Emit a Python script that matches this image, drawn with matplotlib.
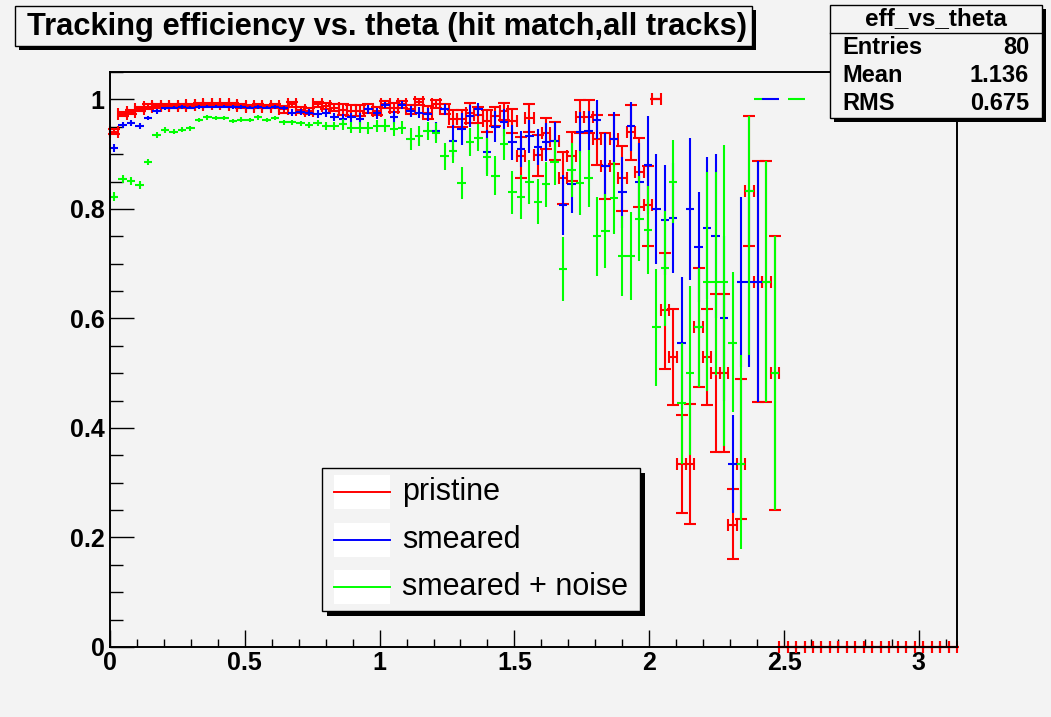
import numpy as np
import matplotlib
matplotlib.use('Agg')
import matplotlib.pyplot as plt
from matplotlib.patches import Rectangle
from matplotlib.lines import Line2D
from matplotlib.ticker import MultipleLocator, FuncFormatter

# Histogramas: 100 bins entre 0 y pi
NBINS = 100
THETA_MIN, THETA_MAX = 0.0, np.pi

# pristine (rojo), bins 0-78 con datos, 79-99 vacios (eff = 0)
pristine = [0.941, 0.973, 0.977, 0.982, 0.987, 0.988, 0.988, 0.988, 0.988, 0.989,
            0.990, 0.991, 0.991, 0.991, 0.990, 0.988, 0.987, 0.988, 0.987, 0.988,
            0.982, 0.991, 0.981, 0.979, 0.991, 0.988, 0.985, 0.981, 0.979, 0.979,
            0.983, 0.979, 0.991, 0.985, 0.991, 0.982, 0.995, 0.976, 0.991, 0.982,
            0.965, 0.965, 0.976, 0.972, 0.960, 0.969, 0.978, 0.960, 0.896, 0.966,
            0.899, 0.938, 0.924, 0.857, 0.896, 0.968, 0.968, 0.927, 0.878, 0.927,
            0.856, 0.940, 0.868, 0.807, 1.000, 0.615, 0.530, 0.334, 0.334, 0.584,
            0.530, 0.500, 0.500, 0.222, 0.334, 0.833, 0.667, 0.667, 0.500] + [0.0] * 21
pristine_lo = [0.005, 0.004, 0.004, 0.004, 0.004, 0.003, 0.003, 0.003, 0.003, 0.003,
               0.003, 0.003, 0.003, 0.003, 0.003, 0.003, 0.003, 0.003, 0.003, 0.003,
               0.006, 0.005, 0.006, 0.006, 0.005, 0.006, 0.006, 0.010, 0.010, 0.010,
               0.008, 0.008, 0.006, 0.008, 0.006, 0.008, 0.005, 0.012, 0.007, 0.009,
               0.015, 0.015, 0.020, 0.015, 0.020, 0.018, 0.015, 0.022, 0.040, 0.025,
               0.038, 0.028, 0.035, 0.048, 0.045, 0.030, 0.030, 0.047, 0.060, 0.045,
               0.060, 0.050, 0.065, 0.075, 0.000, 0.107, 0.088, 0.090, 0.110, 0.110,
               0.088, 0.144, 0.144, 0.062, 0.100, 0.100, 0.220, 0.220, 0.250] + [0.0] * 21
pristine_hi = [0.005, 0.004, 0.004, 0.004, 0.004, 0.003, 0.003, 0.003, 0.003, 0.003,
               0.003, 0.003, 0.003, 0.003, 0.003, 0.003, 0.003, 0.003, 0.003, 0.003,
               0.006, 0.005, 0.006, 0.006, 0.005, 0.006, 0.006, 0.010, 0.010, 0.010,
               0.008, 0.008, 0.006, 0.008, 0.006, 0.008, 0.005, 0.012, 0.007, 0.009,
               0.015, 0.015, 0.018, 0.015, 0.020, 0.018, 0.015, 0.022, 0.036, 0.025,
               0.036, 0.028, 0.034, 0.047, 0.045, 0.030, 0.030, 0.045, 0.060, 0.045,
               0.058, 0.050, 0.062, 0.072, 0.000, 0.105, 0.088, 0.090, 0.110, 0.108,
               0.088, 0.144, 0.144, 0.066, 0.156, 0.137, 0.220, 0.220, 0.250] + [0.0] * 21

# smeared (azul), bins 0-78
smeared = [0.911, 0.953, 0.957, 0.951, 0.966, 0.978, 0.984, 0.985, 0.986, 0.985,
           0.986, 0.987, 0.987, 0.987, 0.986, 0.986, 0.985, 0.986, 0.985, 0.986,
           0.984, 0.976, 0.977, 0.976, 0.973, 0.975, 0.968, 0.965, 0.967, 0.965,
           0.982, 0.975, 0.990, 0.967, 0.990, 0.978, 0.976, 0.973, 0.943, 0.982,
           0.924, 0.946, 0.969, 0.982, 0.904, 0.950, 0.958, 0.922, 0.910, 0.933,
           0.913, 0.922, 0.924, 0.807, 0.845, 0.940, 0.943, 0.963, 0.878, 0.927,
           0.830, 0.951, 0.850, 0.880, 0.800, 0.780, 0.783, 0.555, 0.800, 0.730,
           0.765, 0.750, 0.600, 0.334, 0.667, 0.667, 0.667, 1.000, 1.000]
smeared_err = [0.007, 0.005, 0.005, 0.005, 0.004, 0.004, 0.003, 0.003, 0.003, 0.003,
               0.003, 0.003, 0.003, 0.003, 0.003, 0.003, 0.003, 0.003, 0.003, 0.003,
               0.004, 0.006, 0.006, 0.006, 0.007, 0.007, 0.008, 0.009, 0.009, 0.010,
               0.008, 0.010, 0.006, 0.012, 0.007, 0.010, 0.010, 0.012, 0.015, 0.010,
               0.030, 0.030, 0.020, 0.012, 0.040, 0.028, 0.025, 0.032, 0.033, 0.030,
               0.033, 0.035, 0.035, 0.055, 0.053, 0.037, 0.036, 0.035, 0.060, 0.050,
               0.065, 0.045, 0.070, 0.090, 0.100, 0.100, 0.100, 0.120, 0.130, 0.100,
               0.130, 0.150, 0.150, 0.090, 0.155, 0.155, 0.220, 0.000, 0.000]

# smeared + noise (verde), bins 0-81 (bin 79 vacio)
noise = [0.822, 0.855, 0.851, 0.844, 0.886, 0.935, 0.944, 0.941, 0.945, 0.947,
         0.962, 0.967, 0.966, 0.966, 0.960, 0.963, 0.962, 0.967, 0.962, 0.966,
         0.958, 0.958, 0.956, 0.953, 0.957, 0.951, 0.951, 0.955, 0.948, 0.948,
         0.948, 0.951, 0.952, 0.946, 0.948, 0.927, 0.933, 0.942, 0.939, 0.896,
         0.905, 0.848, 0.922, 0.930, 0.895, 0.861, 0.918, 0.830, 0.822, 0.849,
         0.813, 0.845, 0.885, 0.690, 0.871, 0.847, 0.856, 0.750, 0.760, 0.820,
         0.714, 0.714, 0.782, 0.762, 0.584, 0.692, 0.850, 0.445, 0.500, 0.584,
         0.667, 0.667, 0.667, 0.555, 0.334, 0.833, 1.000, 0.667, 0.500, np.nan, 1.000, 1.000]
noise_lo = [0.008, 0.007, 0.007, 0.007, 0.006, 0.005, 0.005, 0.005, 0.005, 0.005,
            0.004, 0.004, 0.004, 0.004, 0.004, 0.004, 0.004, 0.004, 0.004, 0.004,
            0.005, 0.005, 0.005, 0.006, 0.006, 0.007, 0.007, 0.010, 0.010, 0.010,
            0.011, 0.011, 0.012, 0.012, 0.012, 0.020, 0.018, 0.017, 0.018, 0.025,
            0.021, 0.029, 0.025, 0.025, 0.035, 0.035, 0.028, 0.040, 0.040, 0.040,
            0.041, 0.041, 0.041, 0.058, 0.050, 0.058, 0.052, 0.072, 0.067, 0.066,
            0.073, 0.080, 0.078, 0.080, 0.107, 0.105, 0.075, 0.110, 0.150, 0.110,
            0.200, 0.170, 0.300, 0.125, 0.155, 0.300, 0.000, 0.220, 0.250, np.nan, 0.000, 0.000]
noise_hi = [0.008, 0.007, 0.007, 0.007, 0.006, 0.005, 0.005, 0.005, 0.005, 0.005,
            0.004, 0.004, 0.004, 0.004, 0.004, 0.004, 0.004, 0.004, 0.004, 0.004,
            0.005, 0.005, 0.005, 0.006, 0.006, 0.007, 0.007, 0.010, 0.010, 0.010,
            0.011, 0.011, 0.012, 0.012, 0.012, 0.020, 0.018, 0.017, 0.018, 0.025,
            0.021, 0.029, 0.025, 0.025, 0.035, 0.035, 0.028, 0.040, 0.040, 0.040,
            0.041, 0.041, 0.041, 0.058, 0.050, 0.058, 0.052, 0.072, 0.067, 0.066,
            0.073, 0.080, 0.078, 0.080, 0.107, 0.105, 0.075, 0.110, 0.160, 0.108,
            0.200, 0.200, 0.250, 0.130, 0.200, 0.137, 0.000, 0.220, 0.250, np.nan, 0.000, 0.000]

stats = [('Entries', '80'), ('Mean', '1.136'), ('RMS', '0.675')]
labels = ['pristine', 'smeared', 'smeared + noise']
colors = ['#ff0000', '#0000ff', '#00ff00']

BG = '#f3f3f3'
W, H = 1051, 717
plt.rcParams['font.family'] = ['Liberation Sans', 'DejaVu Sans']

fig = plt.figure(figsize=(W / 100, H / 100), dpi=100, facecolor=BG)


def fx(x):
    return x / W


def fy(y):
    return 1 - y / H


def caja(x0, y0, x1, y1, sombra=4):
    # caja estilo ROOT con sombra negra
    fig.add_artist(Rectangle((fx(x0 + sombra), fy(y1 + sombra)), fx(x1 - x0), (y1 - y0) / H,
                             transform=fig.transFigure, facecolor='black', edgecolor='none', zorder=5))
    fig.add_artist(Rectangle((fx(x0), fy(y1)), fx(x1 - x0), (y1 - y0) / H,
                             transform=fig.transFigure, facecolor=BG, edgecolor='black', lw=1.0, zorder=6))


ax = fig.add_axes([fx(110), fy(647), fx(957 - 110), (647 - 72) / H])
ax.set_facecolor(BG)

edges = np.linspace(THETA_MIN, THETA_MAX, NBINS + 1)
centers = 0.5 * (edges[1:] + edges[:-1])
hw = 0.5 * (edges[1] - edges[0])

series = [(pristine, pristine_lo, pristine_hi, 4.0),
          (smeared, smeared_err, smeared_err, 0),
          (noise, noise_lo, noise_hi, 0)]
for (vals, lo, hi, cap), col in zip(series, colors):
    v = np.array(vals, dtype=float)
    n = len(v)
    ok = ~np.isnan(v)
    cont = ax.errorbar(centers[:n][ok], v[ok], xerr=hw,
                       yerr=[np.array(lo)[ok], np.array(hi)[ok]],
                       fmt='none', ecolor=col, elinewidth=1.5, capsize=cap, capthick=1.5)
    if cap:
        for art in cont.get_children():
            art.set_clip_on(False)

ax.set_xlim(THETA_MIN, THETA_MAX)
ax.set_ylim(0, 1.05)
ax.xaxis.set_major_locator(MultipleLocator(0.5))
ax.xaxis.set_minor_locator(MultipleLocator(0.1))
ax.yaxis.set_major_locator(MultipleLocator(0.2))
ax.yaxis.set_minor_locator(MultipleLocator(0.05))
fmt = FuncFormatter(lambda v, p: '%g' % round(v, 3))
ax.xaxis.set_major_formatter(fmt)
ax.yaxis.set_major_formatter(fmt)
ax.tick_params(axis='x', which='major', direction='in', length=12, width=1.0, pad=3)
ax.tick_params(axis='x', which='minor', direction='in', length=6, width=1.0)
ax.tick_params(axis='y', which='major', direction='in', length=17, width=1.0, pad=4)
ax.tick_params(axis='y', which='minor', direction='in', length=9, width=1.0)
ax.tick_params(top=False, right=False, which='both')
for lab in ax.get_xticklabels() + ax.get_yticklabels():
    lab.set_fontsize(18)
    lab.set_fontweight('bold')
for s in ax.spines.values():
    s.set_linewidth(1.4)

# titulo
caja(15, 6, 752, 46)
fig.text(fx(27), fy(27), 'Tracking efficiency vs. theta (hit match,all tracks)',
         fontsize=22.2, fontweight='bold', va='center', ha='left', zorder=7)

# caja de estadisticas
caja(830, 5, 1042, 118)
fig.add_artist(Line2D([fx(830), fx(1042)], [fy(33), fy(33)], transform=fig.transFigure,
                      color='black', lw=1.0, zorder=7))
fig.text(fx(936), fy(19), 'eff_vs_theta', fontsize=17.5, fontweight='bold',
         ha='center', va='center', zorder=7)
for i, (k, v) in enumerate(stats):
    yy = 48 + i * 28
    fig.text(fx(842), fy(yy), k, fontsize=17, fontweight='bold', ha='left', va='center', zorder=7)
    fig.text(fx(1029), fy(yy), v, fontsize=17, fontweight='bold', ha='right', va='center', zorder=7)

# leyenda
caja(322, 468, 640, 611, sombra=5)
for i, (lab, col) in enumerate(zip(labels, colors)):
    yc = 492 + i * 47.5
    fig.add_artist(Rectangle((fx(334), fy(yc + 17)), fx(56), 34 / H, transform=fig.transFigure,
                             facecolor='white', edgecolor='none', zorder=7))
    fig.add_artist(Line2D([fx(334), fx(390)], [fy(yc), fy(yc)], transform=fig.transFigure,
                          color=col, lw=1.4, zorder=8))
    fig.text(fx(402), fy(yc), lab, fontsize=22, ha='left', va='center', zorder=8)

fig.savefig('out.png', dpi=100, facecolor=BG)
